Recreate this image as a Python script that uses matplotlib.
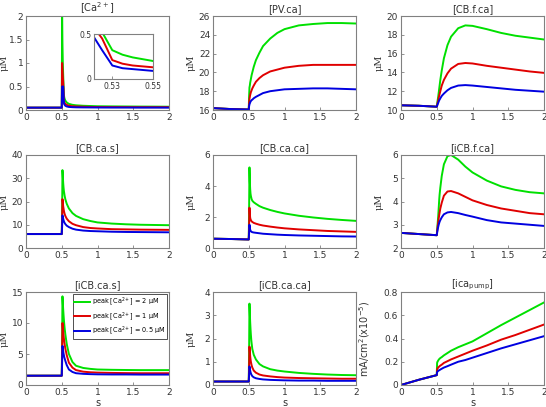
import matplotlib
matplotlib.use("Agg")
import matplotlib.pyplot as plt

# time points (s)
t = [0, 0.25, 0.5, 0.505, 0.51, 0.515, 0.52, 0.525, 0.53, 0.535, 0.54, 0.55,
     0.57, 0.6, 0.65, 0.7, 0.8, 0.9, 1.0, 1.2, 1.4, 1.6, 1.8, 2.0]

# [Ca2+]
ca_green = [0.05, 0.05, 0.05, 2.0, 1.4, 1.0, 0.75, 0.52, 0.32, 0.27, 0.24, 0.2,
            0.16, 0.13, 0.11, 0.1, 0.09, 0.085, 0.08, 0.077, 0.075, 0.073, 0.072, 0.07]
ca_red = [0.05, 0.05, 0.05, 1.0, 0.85, 0.72, 0.6, 0.45, 0.21, 0.17, 0.15, 0.13,
          0.11, 0.09, 0.08, 0.075, 0.07, 0.065, 0.063, 0.062, 0.061, 0.06, 0.06, 0.06]
ca_blue = [0.05, 0.05, 0.05, 0.5, 0.5, 0.5, 0.5, 0.32, 0.15, 0.12, 0.11, 0.09,
           0.075, 0.065, 0.06, 0.057, 0.055, 0.054, 0.053, 0.052, 0.052, 0.051, 0.051, 0.05]

# [PV.ca]
pv_green = [16.2, 16.1, 16.05, 17.5, 18.4, 18.6, 18.9, 19.1, 19.3, 19.5, 19.7, 20.0,
            20.6, 21.3, 22.1, 22.8, 23.6, 24.2, 24.6, 25.0, 25.15, 25.25, 25.25, 25.2]
pv_red = [16.2, 16.1, 16.05, 16.8, 17.2, 17.4, 17.6, 17.75, 17.9, 18.0, 18.1, 18.3,
          18.6, 19.0, 19.4, 19.7, 20.1, 20.3, 20.5, 20.7, 20.8, 20.8, 20.8, 20.8]
pv_blue = [16.2, 16.1, 16.05, 16.4, 16.6, 16.7, 16.8, 16.9, 16.95, 17.0, 17.05, 17.1,
           17.25, 17.4, 17.6, 17.8, 18.0, 18.1, 18.2, 18.25, 18.3, 18.3, 18.25, 18.2]

# [CB.f.ca]
cbf_green = [10.5, 10.45, 10.35, 10.6, 10.9, 11.15, 11.4, 11.7, 12.0, 12.3, 12.6, 13.2,
             14.2, 15.5, 16.9, 17.8, 18.7, 19.0, 18.95, 18.6, 18.2, 17.9, 17.7, 17.5]
cbf_red = [10.5, 10.45, 10.35, 10.5, 10.7, 10.85, 11.0, 11.2, 11.4, 11.55, 11.7, 12.0,
           12.6, 13.2, 13.9, 14.4, 14.9, 15.0, 14.95, 14.7, 14.5, 14.3, 14.1, 13.95]
cbf_blue = [10.5, 10.45, 10.35, 10.45, 10.55, 10.65, 10.75, 10.85, 10.95, 11.05, 11.1, 11.25,
            11.5, 11.75, 12.1, 12.35, 12.6, 12.65, 12.6, 12.45, 12.3, 12.15, 12.05, 11.95]

# [CB.ca.s]
cbs_green = [6, 6, 6, 15, 33.5, 31, 28, 26, 24.5, 23.5, 22.5, 21,
             19, 17, 15, 13.8, 12.4, 11.6, 11, 10.5, 10.2, 10.0, 9.9, 9.8]
cbs_red = [6, 6, 6, 12, 21, 19.5, 18, 17, 16, 15.3, 14.7, 13.8,
           12.6, 11.5, 10.4, 9.8, 9.0, 8.6, 8.4, 8.1, 8.0, 7.9, 7.85, 7.8]
cbs_blue = [6, 6, 6, 9, 14, 13.3, 12.6, 12, 11.5, 11.1, 10.8, 10.3,
            9.6, 9.0, 8.3, 7.9, 7.5, 7.3, 7.2, 7.0, 6.9, 6.85, 6.8, 6.75]

# [CB.ca.ca]
cbcc_green = [0.6, 0.58, 0.55, 2.5, 5.2, 4.3, 3.8, 3.5, 3.35, 3.25, 3.15, 3.05,
              2.95, 2.85, 2.7, 2.6, 2.45, 2.33, 2.23, 2.08, 1.97, 1.88, 1.81, 1.75]
cbcc_red = [0.6, 0.58, 0.55, 1.5, 2.6, 2.2, 1.95, 1.85, 1.8, 1.75, 1.72, 1.68,
            1.62, 1.57, 1.5, 1.45, 1.38, 1.32, 1.27, 1.2, 1.15, 1.1, 1.07, 1.04]
cbcc_blue = [0.6, 0.58, 0.55, 1.0, 1.5, 1.3, 1.18, 1.12, 1.08, 1.06, 1.04, 1.02,
             1.0, 0.98, 0.95, 0.92, 0.89, 0.86, 0.84, 0.81, 0.79, 0.77, 0.75, 0.74]

# [iCB.f.ca]
icbf_green = [2.65, 2.6, 2.55, 2.75, 2.95, 3.15, 3.35, 3.6, 3.85, 4.1, 4.3, 4.6,
              5.1, 5.6, 5.95, 6.0, 5.8, 5.5, 5.25, 4.9, 4.65, 4.5, 4.4, 4.35]
icbf_red = [2.65, 2.6, 2.55, 2.7, 2.85, 2.98, 3.1, 3.22, 3.33, 3.43, 3.52, 3.7,
            3.95, 4.25, 4.43, 4.45, 4.35, 4.2, 4.05, 3.85, 3.7, 3.6, 3.5, 3.45]
icbf_blue = [2.65, 2.6, 2.55, 2.65, 2.75, 2.83, 2.9, 2.97, 3.03, 3.08, 3.13, 3.2,
             3.32, 3.45, 3.53, 3.55, 3.5, 3.42, 3.35, 3.2, 3.1, 3.05, 3.0, 2.95]

# [iCB.ca.s]
icbs_green = [1.5, 1.5, 1.5, 7, 14.3, 13.2, 12.2, 11.3, 10.5, 9.8, 9.2, 8.2,
              6.6, 5.0, 3.7, 3.1, 2.75, 2.6, 2.5, 2.45, 2.42, 2.4, 2.4, 2.4]
icbs_red = [1.5, 1.5, 1.5, 5, 10, 9.3, 8.6, 8.0, 7.5, 7.0, 6.6, 5.9,
            4.8, 3.6, 2.8, 2.4, 2.15, 2.05, 2.0, 1.95, 1.92, 1.9, 1.9, 1.9]
icbs_blue = [1.5, 1.5, 1.5, 3.5, 6.3, 5.9, 5.5, 5.1, 4.8, 4.5, 4.3, 3.9,
             3.2, 2.5, 2.1, 1.9, 1.8, 1.75, 1.72, 1.7, 1.7, 1.68, 1.68, 1.68]

# [iCB.ca.ca]
icbcc_green = [0.15, 0.15, 0.15, 1.5, 3.5, 3.1, 2.7, 2.4, 2.15, 1.95, 1.8, 1.55,
               1.3, 1.1, 0.9, 0.8, 0.68, 0.62, 0.58, 0.52, 0.48, 0.45, 0.43, 0.42]
icbcc_red = [0.15, 0.15, 0.15, 0.8, 1.65, 1.45, 1.25, 1.1, 1.0, 0.92, 0.85, 0.75,
             0.62, 0.53, 0.45, 0.41, 0.37, 0.34, 0.32, 0.3, 0.29, 0.28, 0.27, 0.27]
icbcc_blue = [0.15, 0.15, 0.15, 0.45, 0.8, 0.7, 0.62, 0.55, 0.5, 0.46, 0.43, 0.38,
              0.33, 0.29, 0.26, 0.24, 0.22, 0.21, 0.2, 0.19, 0.19, 0.18, 0.18, 0.18]

# [ica_pump]
pump_green = [0, 0.045, 0.085, 0.19, 0.2, 0.205, 0.21, 0.215, 0.22, 0.223, 0.226, 0.232,
              0.24, 0.255, 0.275, 0.295, 0.325, 0.35, 0.375, 0.445, 0.515, 0.58, 0.645, 0.71]
pump_red = [0, 0.045, 0.085, 0.13, 0.14, 0.145, 0.15, 0.153, 0.156, 0.159, 0.162, 0.167,
            0.175, 0.19, 0.205, 0.22, 0.245, 0.27, 0.295, 0.34, 0.39, 0.43, 0.475, 0.52]
pump_blue = [0, 0.045, 0.085, 0.11, 0.115, 0.118, 0.121, 0.123, 0.125, 0.127, 0.129, 0.133,
             0.14, 0.15, 0.162, 0.175, 0.2, 0.215, 0.235, 0.275, 0.315, 0.35, 0.385, 0.42]

titles = ["[Ca$^{2+}$]", "[PV.ca]", "[CB.f.ca]",
          "[CB.ca.s]", "[CB.ca.ca]", "[iCB.f.ca]",
          "[iCB.ca.s]", "[iCB.ca.ca]", "[ica$_{\\mathrm{pump}}$]"]
series = [(ca_green, ca_red, ca_blue), (pv_green, pv_red, pv_blue),
          (cbf_green, cbf_red, cbf_blue), (cbs_green, cbs_red, cbs_blue),
          (cbcc_green, cbcc_red, cbcc_blue), (icbf_green, icbf_red, icbf_blue),
          (icbs_green, icbs_red, icbs_blue), (icbcc_green, icbcc_red, icbcc_blue),
          (pump_green, pump_red, pump_blue)]
ylims = [(0, 2), (16, 26), (10, 20), (0, 40), (0, 6), (2, 6), (0, 15), (0, 4), (0, 0.8)]
yticks = [[0, 0.5, 1, 1.5, 2], [16, 18, 20, 22, 24, 26], [10, 12, 14, 16, 18, 20],
          [0, 10, 20, 30, 40], [0, 2, 4, 6], [2, 3, 4, 5, 6], [0, 5, 10, 15],
          [0, 1, 2, 3, 4], [0, 0.2, 0.4, 0.6, 0.8]]
legend_labels = ["peak [Ca$^{2+}$] = 2 \u03bcM", "peak [Ca$^{2+}$] = 1 \u03bcM",
                 "peak [Ca$^{2+}$] = 0.5 \u03bcM"]
colors = ["#00e000", "#e00000", "#0000e0"]

plt.rcParams['font.family'] = ['DejaVu Sans']
plt.rcParams['mathtext.fontset'] = 'dejavusans'

W, H = 546, 407
fig = plt.figure(figsize=(W / 100, H / 100), dpi=100)

lefts = [26, 213, 401]
tops = [16, 155, 292]
bottoms = [110, 248, 385]
aw = 143

def style_axes(ax):
    for sp in ax.spines.values():
        sp.set_color('#808080')
        sp.set_linewidth(0.8)
    ax.tick_params(direction='in', length=2, width=0.6, colors='#808080',
                   labelsize=6.5, labelcolor='#333333', pad=2)

for i in range(9):
    r, c = divmod(i, 3)
    ah = bottoms[r] - tops[r]
    ax = fig.add_axes([lefts[c] / W, 1 - bottoms[r] / H, aw / W, ah / H])
    g, rd, b = series[i]
    for y, col, lab in zip((g, rd, b), colors, legend_labels):
        ax.plot(t, y, color=col, lw=1.4, label=lab)
    ax.set_xlim(0, 2)
    ax.set_ylim(*ylims[i])
    ax.set_xticks([0, 0.5, 1, 1.5, 2])
    ax.set_xticklabels(['0', '0.5', '1', '1.5', '2'])
    ax.set_yticks(yticks[i])
    ax.set_yticklabels([f'{v:g}' for v in yticks[i]])
    style_axes(ax)
    ax.set_title(titles[i], fontsize=7, color='#333333', pad=3)
    if i == 8:
        ax.set_ylabel("mA/cm$^2$(x10$^{-5}$)", fontsize=7, color='#333333')
        ax.yaxis.set_label_coords(-0.2, 0.5)
    else:
        ax.set_ylabel("\u03bcM", fontsize=7, color='#333333', family='DejaVu Serif')
        ax.yaxis.set_label_coords(-0.12, 0.5)
    if r == 2:
        ax.set_xlabel("s", fontsize=7, color='#333333')
        ax.xaxis.set_label_coords(0.5, -0.135)
    if i == 6:
        leg = ax.legend(loc='upper right', fontsize=4.7, handlelength=2.4,
                        borderpad=0.25, labelspacing=0.25, handletextpad=0.3,
                        borderaxespad=0.3, fancybox=False, framealpha=1)
        leg.get_frame().set_edgecolor('#333333')
        leg.get_frame().set_linewidth(0.6)
    if i == 0:
        ins = fig.add_axes([94 / W, 1 - 79 / H, 59 / W, 45 / H])
        for y, col in zip((g, rd, b), colors):
            ins.plot(t, y, color=col, lw=1.4)
        ins.set_xlim(0.521, 0.55)
        ins.set_ylim(0, 0.5)
        ins.set_xticks([0.53, 0.55])
        ins.set_xticklabels(['0.53', '0.55'])
        ins.set_yticks([0, 0.5])
        ins.set_yticklabels(['0', '0.5'])
        style_axes(ins)
        ins.tick_params(labelsize=5.5)

fig.savefig("out.png", dpi=100)
